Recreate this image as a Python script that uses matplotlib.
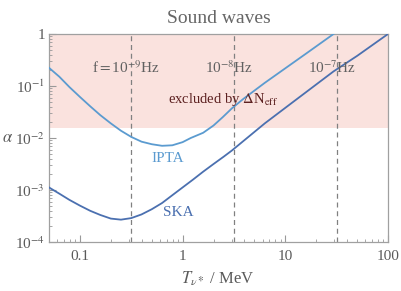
import numpy as np
import matplotlib
matplotlib.use("Agg")
import matplotlib.pyplot as plt
from matplotlib.ticker import LogLocator, NullFormatter

# ---- data ----
ipta_T = [0.050, 0.063, 0.079, 0.100, 0.126, 0.158, 0.200, 0.251, 0.316, 0.398,
          0.501, 0.631, 0.794, 1.00, 1.20, 1.585, 2.00, 2.455, 3.02, 3.89,
          6.31, 10.0, 15.85, 29.5]
ipta_a = [0.224, 0.151, 0.0955, 0.0617, 0.0407, 0.0275, 0.0191, 0.0138, 0.0105, 0.0085,
          0.00759, 0.00708, 0.00724, 0.00832, 0.0100, 0.0126, 0.0174, 0.0251, 0.0372, 0.0562,
          0.115, 0.219, 0.417, 1.0]

ska_T = [0.050, 0.063, 0.079, 0.100, 0.126, 0.158, 0.200, 0.251, 0.316, 0.398,
         0.501, 0.631, 0.794, 1.00, 1.26, 1.58, 2.00, 2.51, 3.02, 6.31,
         12.6, 29.5, 50.1, 100.0]
ska_a = [1.12e-3, 8.51e-4, 6.46e-4, 5.01e-4, 3.98e-4, 3.31e-4, 2.82e-4, 2.69e-4, 2.88e-4, 3.39e-4,
         4.27e-4, 5.62e-4, 7.94e-4, 1.12e-3, 1.58e-3, 2.24e-3, 3.16e-3, 4.37e-3, 5.75e-3, 0.0191,
         0.0537, 0.191, 0.380, 1.0]

freq_T = [0.316, 3.16, 31.6]
freq_labels = [r"f$=$10$^{-9}$Hz", r"10$^{-8}$Hz", r"10$^{-7}$Hz"]
neff_limit = 0.0155

xticks = [0.1, 1, 10, 100]
xticklabels = ["0.1", "1", "10", "100"]
yticks = [1e-4, 1e-3, 1e-2, 1e-1, 1]
yticklabels = [r"10$^{-4}$", r"10$^{-3}$", r"10$^{-2}$", r"10$^{-1}$", "1"]

# ---- style ----
plt.rcParams['font.family'] = ['Liberation Serif', 'DejaVu Serif']
plt.rcParams['mathtext.fontset'] = 'stix'
plt.rcParams['mathtext.rm'] = 'Liberation Serif'
plt.rcParams['mathtext.it'] = 'Liberation Serif:italic'

gray = '#5a5a5a'
fig = plt.figure(figsize=(4.02, 2.91), dpi=100)
ax = fig.add_axes([49/402, 1-242/291, (388-49)/402, (242-34)/291])

ax.set_xscale('log')
ax.set_yscale('log')
ax.set_xlim(0.05, 100)
ax.set_ylim(1e-4, 1)

ax.axhspan(neff_limit, 1, color='#fae2de', zorder=0, lw=0)

for t in freq_T:
    ax.axvline(t, color='#808080', lw=0.9, ls=(0, (4, 3)), zorder=1)

ax.plot(ipta_T, ipta_a, color='#5b9bd0', lw=1.3, zorder=3)
ax.plot(ska_T, ska_a, color='#4b70b0', lw=1.3, zorder=3)

for t, lab in zip(freq_T, freq_labels):
    ax.text(t * 10**(-5/104), 10**(-(68-34)/52), lab, ha='center', va='center',
            fontsize=11, color='#606060', zorder=4)

ax.text(10**(-1 + (223-78)/104), 10**(-(100-34)/52), r"excluded by $\Delta$N$_{\rm eff}$",
        ha='center', va='center', fontsize=10.5, color='#5c2020', zorder=4)
ax.text(10**(-1 + (167-78)/104), 10**(-(158-34)/52), "IPTA", ha='center', va='center',
        fontsize=11, color='#5b9bd0', zorder=4)
ax.text(10**(-1 + (178-78)/104), 10**(-(212-34)/52), "SKA", ha='center', va='center',
        fontsize=11, color='#4b70b0', zorder=4)

ax.set_xticks(xticks)
ax.set_xticklabels(xticklabels)
ax.set_yticks(yticks)
ax.set_yticklabels(yticklabels)
ax.xaxis.set_minor_locator(LogLocator(base=10, subs=np.arange(2, 10)))
ax.yaxis.set_minor_locator(LogLocator(base=10, subs=np.arange(2, 10)))
ax.xaxis.set_minor_formatter(NullFormatter())
ax.yaxis.set_minor_formatter(NullFormatter())
ax.tick_params(which='both', direction='in', colors='#999999', labelcolor=gray,
               labelsize=11, top=False, right=False)
ax.tick_params(which='major', length=5, width=0.8)
ax.tick_params(which='minor', length=2.5, width=0.6)
ax.tick_params(axis='x', pad=6)
ax.tick_params(axis='y', pad=3)
for s in ax.spines.values():
    s.set_color('#a0a0a0')
    s.set_linewidth(0.9)

ax.set_title("Sound waves", fontsize=14, color='#666666', pad=8)
fig.text(8/402, 1-138/291, r"$\alpha$", ha='center', va='center', fontsize=12, color=gray)
fig.text(218/402, 1-279/291, r"$T_{\nu*}$ / MeV", ha='center', va='center', fontsize=12, color=gray)

fig.savefig("out.png", dpi=100)
